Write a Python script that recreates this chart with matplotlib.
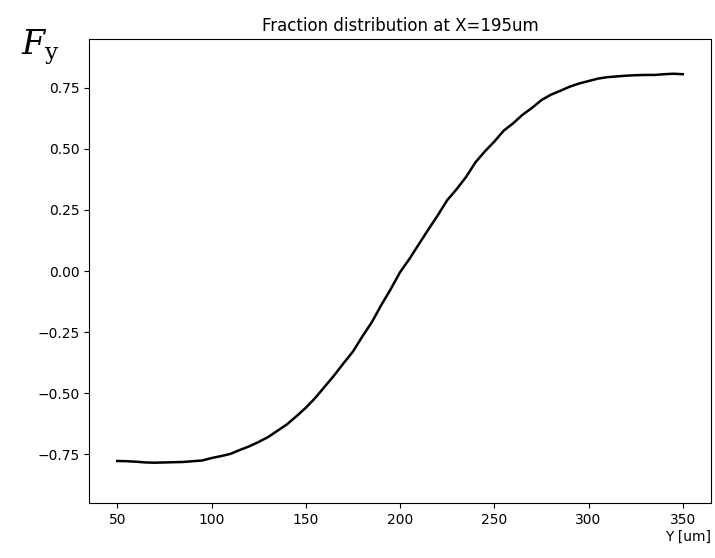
import numpy as np
import matplotlib
matplotlib.use('Agg')
import matplotlib.pyplot as plt

# Y position across the channel [um] and fraction value
yPos = [50, 55, 60, 65, 70, 75, 80, 85, 90, 95,
        100, 105, 110, 115, 120, 125, 130, 135, 140, 145,
        150, 155, 160, 165, 170, 175, 180, 185, 190, 195,
        200, 205, 210, 215, 220, 225, 230, 235, 240, 245,
        250, 255, 260, 265, 270, 275, 280, 285, 290, 295,
        300, 305, 310, 315, 320, 325, 330, 335, 340, 345, 350]
fraction = [-0.778, -0.779, -0.781, -0.784, -0.785, -0.784, -0.783, -0.782, -0.779, -0.776,
            -0.766, -0.758, -0.749, -0.733, -0.718, -0.700, -0.680, -0.654, -0.628, -0.595,
            -0.560, -0.520, -0.474, -0.428, -0.378, -0.330, -0.268, -0.210, -0.140, -0.075,
            -0.005, 0.050, 0.110, 0.170, 0.228, 0.290, 0.335, 0.385, 0.445, 0.490,
            0.530, 0.575, 0.605, 0.640, 0.668, 0.700, 0.722, 0.738, 0.755, 0.768,
            0.778, 0.788, 0.794, 0.797, 0.800, 0.802, 0.803, 0.803, 0.806, 0.808, 0.806]

fig = plt.figure(figsize=(7.15, 5.58), dpi=100)
ax = fig.add_axes([0.1245, 0.0986, 0.87, 0.8314])

ax.plot(yPos, fraction, color='k', lw=1.8)
ax.set_ylim(-0.95, 0.95)
ax.set_yticks([-0.75, -0.5, -0.25, 0.0, 0.25, 0.5, 0.75])
ax.set_title('Fraction distribution at X=195um')
ax.set_xlabel('Y [um]', loc='right', labelpad=2)

# y label sits above the axis, unrotated
fig.text(0.056, 0.916, r'$F_\mathrm{y}$', fontsize=24, ha='center', va='center',
         math_fontfamily='dejavuserif')

fig.savefig('out.png', dpi=100)
